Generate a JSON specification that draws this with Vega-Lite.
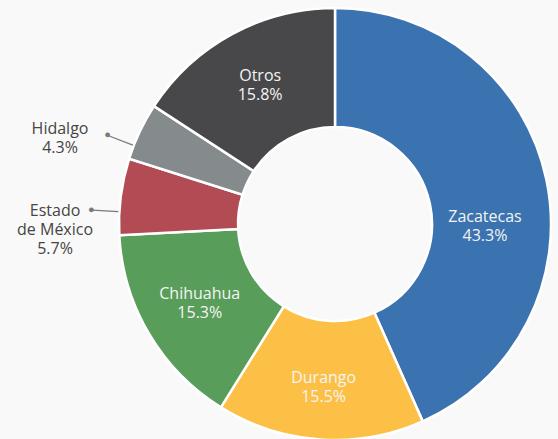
{
  "$schema": "https://vega.github.io/schema/vega-lite/v6.json",
  "width": 446,
  "height": 430,
  "autosize": "none",
  "padding": {"left": 112, "top": 9, "right": 0, "bottom": 0},
  "background": "#f9f9f9",
  "config": {"view": {"stroke": null}, "font": "Open Sans"},
  "data": {
    "values": [
      {"i": 1, "name": "Zacatecas", "value": 43.3, "label": "Zacatecas\n43.3%"},
      {"i": 2, "name": "Durango", "value": 15.5, "label": "Durango\n15.5%"},
      {"i": 3, "name": "Chihuahua", "value": 15.3, "label": "Chihuahua\n15.3%"},
      {"i": 4, "name": "Estado de México", "value": 5.7, "label": "Estado\nde México\n5.7%"},
      {"i": 5, "name": "Hidalgo", "value": 4.3, "label": "Hidalgo\n4.3%"},
      {"i": 6, "name": "Otros", "value": 15.8, "label": "Otros\n15.8%"}
    ]
  },
  "transform": [
    {"stack": "value", "groupby": [], "sort": [{"field": "i", "order": "ascending"}], "as": ["a0", "a1"]},
    {"calculate": "(datum.a0 + datum.a1) / 2", "as": "mid"}
  ],
  "layer": [
    {
      "mark": {"type": "arc", "innerRadius": 97, "outerRadius": 216, "stroke": "white", "strokeWidth": 2.5},
      "encoding": {
        "theta": {"field": "a0", "type": "quantitative", "scale": {"domain": [0, 99.9]}},
        "theta2": {"field": "a1"},
        "color": {
          "field": "name",
          "type": "nominal",
          "scale": {
            "domain": ["Zacatecas", "Durango", "Chihuahua", "Estado de México", "Hidalgo", "Otros"],
            "range": ["#3b72b0", "#fdc046", "#589e5a", "#b24b53", "#858a8c", "#48484a"]
          },
          "legend": null
        }
      }
    },
    {
      "transform": [{"filter": "datum.name == 'Hidalgo' || datum.name == 'Estado de México'"}],
      "mark": {"type": "arc", "innerRadius": 217, "outerRadius": 243, "thetaOffset": -0.07, "theta2Offset": -0.07, "filled": false, "stroke": "#7a7a7a", "strokeWidth": 1.2},
      "encoding": {
        "theta": {"field": "mid", "type": "quantitative", "scale": {"domain": [0, 99.9]}},
        "theta2": {"field": "mid"}
      }
    },
    {
      "transform": [{"filter": "datum.name == 'Hidalgo' || datum.name == 'Estado de México'"}],
      "mark": {"type": "text", "radius": 244, "thetaOffset": -0.07, "fontSize": 11, "color": "#7a7a7a", "baseline": "middle", "align": "center"},
      "encoding": {
        "theta": {"field": "mid", "type": "quantitative", "scale": {"domain": [0, 99.9]}},
        "text": {"value": "●"}
      }
    },
    {
      "transform": [{"filter": "datum.name == 'Chihuahua' || datum.name == 'Otros'"}],
      "mark": {"type": "text", "radius": 157, "dy": -9.5, "fontSize": 16, "lineHeight": 19, "lineBreak": "\n", "color": "#f4f4f4", "baseline": "middle", "align": "center"},
      "encoding": {
        "theta": {"field": "mid", "type": "quantitative", "scale": {"domain": [0, 99.9]}},
        "text": {"field": "label"}
      }
    },
    {
      "transform": [{"filter": "datum.name == 'Durango'"}],
      "mark": {"type": "text", "radius": 164, "dy": -9.5, "fontSize": 16, "lineHeight": 19, "lineBreak": "\n", "color": "#f4f4f4", "baseline": "middle", "align": "center"},
      "encoding": {
        "theta": {"field": "mid", "type": "quantitative", "scale": {"domain": [0, 99.9]}},
        "text": {"field": "label"}
      }
    },
    {
      "transform": [{"filter": "datum.name == 'Zacatecas'"}],
      "mark": {"type": "text", "radius": 150, "dy": -9.5, "thetaOffset": 0.225, "fontSize": 16, "lineHeight": 19, "lineBreak": "\n", "color": "#f4f4f4", "baseline": "middle", "align": "center"},
      "encoding": {
        "theta": {"field": "mid", "type": "quantitative", "scale": {"domain": [0, 99.9]}},
        "text": {"field": "label"}
      }
    },
    {
      "transform": [{"filter": "datum.name == 'Hidalgo'"}],
      "mark": {"type": "text", "radius": 288, "dy": -9.5, "thetaOffset": -0.14, "fontSize": 16, "lineHeight": 19, "lineBreak": "\n", "color": "#454545", "baseline": "middle", "align": "center"},
      "encoding": {
        "theta": {"field": "mid", "type": "quantitative", "scale": {"domain": [0, 99.9]}},
        "text": {"field": "label"}
      }
    },
    {
      "transform": [{"filter": "datum.name == 'Estado de México'"}],
      "mark": {"type": "text", "radius": 280, "dy": -19, "thetaOffset": -0.148, "fontSize": 16, "lineHeight": 19, "lineBreak": "\n", "color": "#454545", "baseline": "middle", "align": "center"},
      "encoding": {
        "theta": {"field": "mid", "type": "quantitative", "scale": {"domain": [0, 99.9]}},
        "text": {"field": "label"}
      }
    }
  ]
}
